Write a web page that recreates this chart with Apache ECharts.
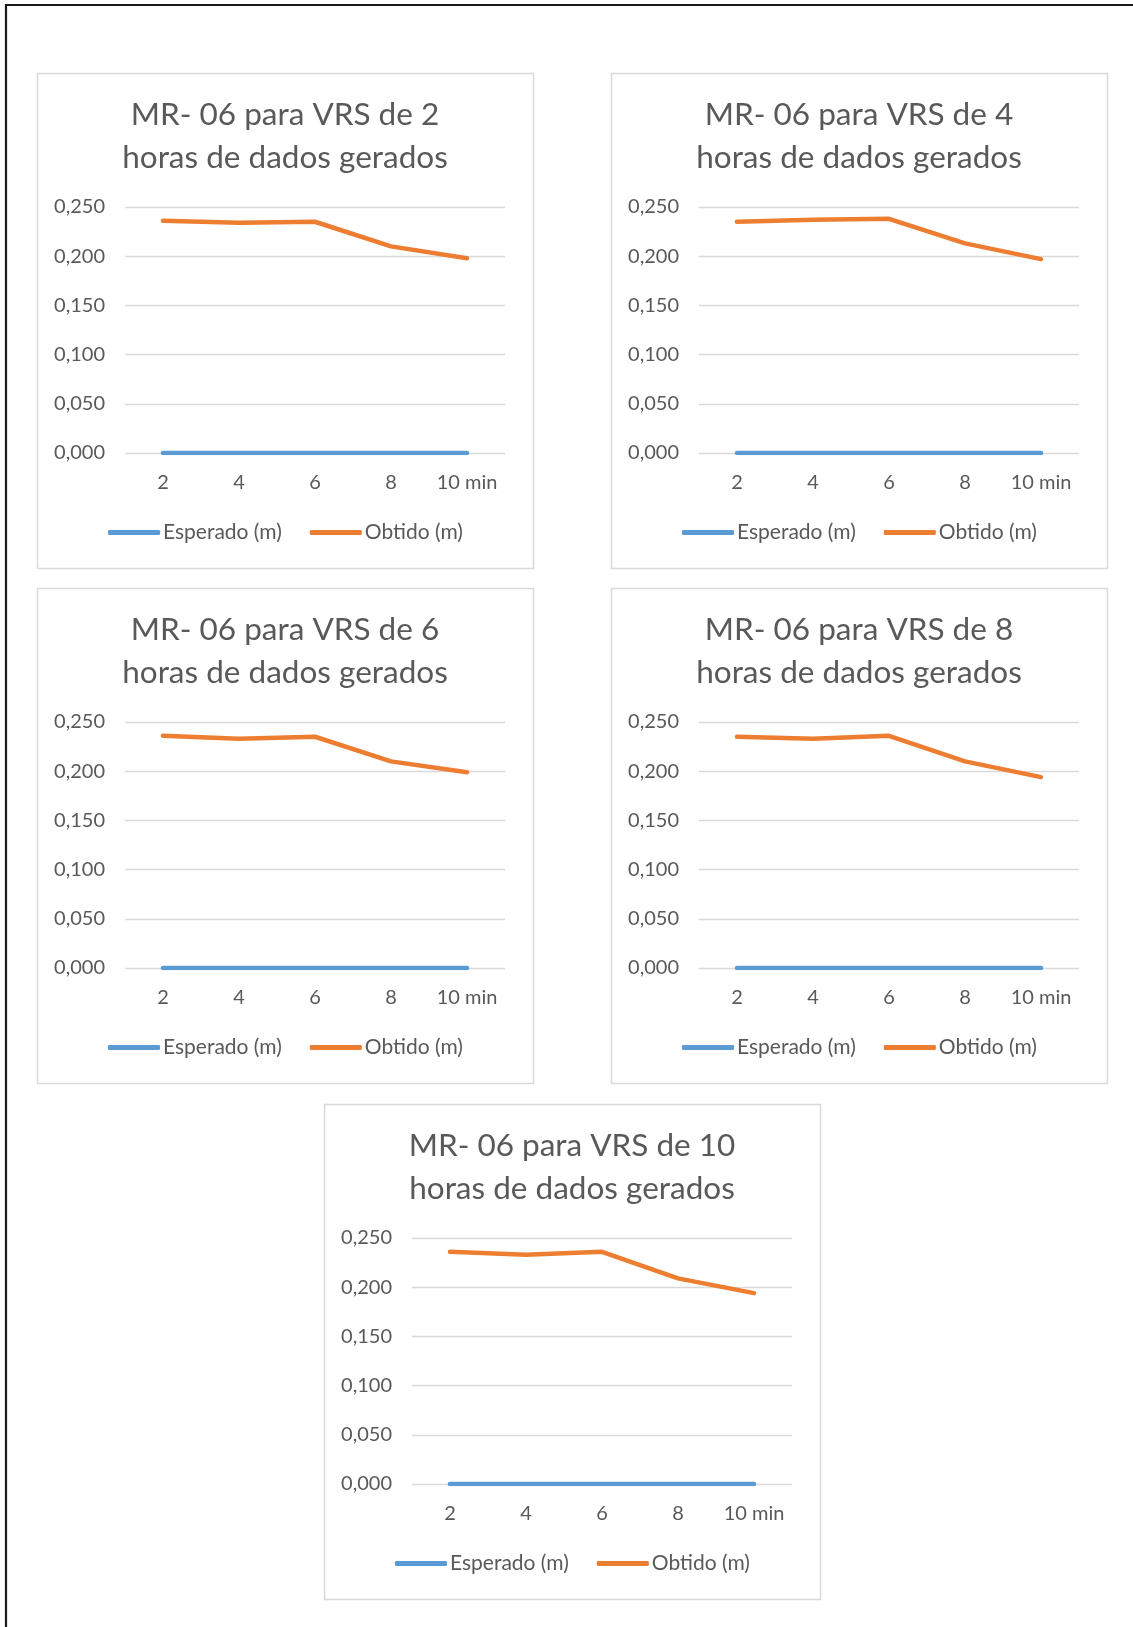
<!DOCTYPE html>
<html>
<head>
<meta charset="utf-8">
<script src="https://cdn.jsdelivr.net/npm/echarts@6/dist/echarts.min.js"></script>
<style>
  html, body { margin: 0; padding: 0; background: #ffffff; }
  #chart { width: 1133px; height: 1627px; }
</style>
</head>
<body>
<div id="chart"></div>
<script>
// Intervalos de medição (minutos)
const categories = ['2', '4', '6', '8', '10 min'];

// Horas de dados usadas para gerar cada VRS
const vrsHours = [2, 4, 6, 8, 10];

// Discrepância esperada (m) — nula em todos os intervalos
const esperado = [0, 0, 0, 0, 0];

// Discrepância obtida (m) para cada VRS
const obtido2h  = [0.236, 0.234, 0.235, 0.210, 0.198];
const obtido4h  = [0.235, 0.237, 0.238, 0.213, 0.197];
const obtido6h  = [0.236, 0.233, 0.235, 0.210, 0.199];
const obtido8h  = [0.235, 0.233, 0.236, 0.210, 0.194];
const obtido10h = [0.236, 0.233, 0.236, 0.209, 0.194];
const obtidos = [obtido2h, obtido4h, obtido6h, obtido8h, obtido10h];

// Marcas do eixo vertical
const yTicks = [0, 0.05, 0.10, 0.15, 0.20, 0.25];

const seriesNames = ['Esperado (m)', 'Obtido (m)'];

// Posição (canto superior esquerdo) de cada painel
const panels = [
  { x: 37,  y: 73 },
  { x: 611, y: 73 },
  { x: 37,  y: 588 },
  { x: 611, y: 588 },
  { x: 324, y: 1104 }
];
const PW = 496, PH = 495;

const FONT = 'Lato, "Open Sans", sans-serif';
const TEXT = '#595959';
const GRID_LINE = '#d9d9d9';
const BLUE = '#5b9bd5';
const ORANGE = '#ed7d31';

const TITLE_SIZE = 31.5;
const LABEL_SIZE = 20;
const LEGEND_SIZE = 21;
const ICON_W = 52, ICON_GAP = 3, ITEM_GAP = 28;

const fmt = v => v.toFixed(3).replace('.', ',');

// Largura de texto para centralizar a legenda dentro do painel
const measureCtx = document.createElement('canvas').getContext('2d');
function textWidth(str, size) {
  measureCtx.font = size + 'px ' + FONT;
  return measureCtx.measureText(str).width;
}
const legendWidth = seriesNames.reduce((acc, n) => acc + ICON_W + ICON_GAP + textWidth(n, LEGEND_SIZE), 0) + ITEM_GAP;

const option = {
  backgroundColor: '#ffffff',
  animation: false,
  legend: [], grid: [], xAxis: [], yAxis: [], series: [],
  graphic: []
};

// Moldura externa (linhas superior e esquerda)
option.graphic.push({
  type: 'line', silent: true,
  shape: { x1: 5, y1: 5, x2: 1133, y2: 5 },
  style: { stroke: '#1a1a1a', lineWidth: 2.2 }
});
option.graphic.push({
  type: 'line', silent: true,
  shape: { x1: 6, y1: 4, x2: 6, y2: 1627 },
  style: { stroke: '#1a1a1a', lineWidth: 2.2 }
});

panels.forEach((p, i) => {
  // Caixa do painel
  option.graphic.push({
    type: 'rect', silent: true, z: -1,
    shape: { x: p.x + 0.5, y: p.y + 0.5, width: PW, height: PH },
    style: { fill: '#ffffff', stroke: '#d9d9d9', lineWidth: 1.5 }
  });

  // Título em duas linhas
  const titleLines = ['MR- 06 para VRS de ' + vrsHours[i], 'horas de dados gerados'];
  titleLines.forEach((line, k) => {
    option.graphic.push({
      type: 'text', silent: true,
      style: {
        text: line,
        x: p.x + PW / 2,
        y: p.y + 42 + k * 42.5,
        align: 'center', verticalAlign: 'middle',
        font: TITLE_SIZE + 'px ' + FONT,
        fill: TEXT
      }
    });
  });

  option.grid.push({
    left: p.x + 88, top: p.y + 134, width: 380, height: 246,
    containLabel: false
  });

  option.xAxis.push({
    type: 'category', gridIndex: i, data: categories, boundaryGap: true,
    axisLine: { show: false }, axisTick: { show: false },
    axisLabel: { color: TEXT, fontFamily: FONT, fontSize: LABEL_SIZE, margin: 20, interval: 0 }
  });

  option.yAxis.push({
    type: 'value', gridIndex: i,
    min: yTicks[0], max: yTicks[yTicks.length - 1], interval: 0.05,
    axisLine: { show: false }, axisTick: { show: false },
    splitLine: { show: true, lineStyle: { color: GRID_LINE, width: 1.3 } },
    axisLabel: {
      color: TEXT, fontFamily: FONT, fontSize: LABEL_SIZE, margin: 20,
      formatter: fmt
    }
  });

  option.legend.push({
    data: seriesNames.map(n => ({ name: n, icon: 'roundRect' })),
    left: Math.round(p.x + PW / 2 - legendWidth / 2),
    top: p.y + 449,
    orient: 'horizontal',
    padding: 0,
    itemWidth: ICON_W, itemHeight: 5, itemGap: ITEM_GAP,
    itemStyle: { borderWidth: 0 },
    textStyle: { color: TEXT, fontFamily: FONT, fontSize: LEGEND_SIZE, padding: [0, 0, 0, ICON_GAP - 5] },
    selectedMode: false
  });

  option.series.push({
    name: seriesNames[0], type: 'line', xAxisIndex: i, yAxisIndex: i,
    data: esperado, symbol: 'none', color: BLUE,
    lineStyle: { color: BLUE, width: 4.5, cap: 'round', join: 'round' },
    z: 3
  });
  option.series.push({
    name: seriesNames[1], type: 'line', xAxisIndex: i, yAxisIndex: i,
    data: obtidos[i], symbol: 'none', color: ORANGE,
    lineStyle: { color: ORANGE, width: 4.5, cap: 'round', join: 'round' },
    z: 3
  });
});

const chart = echarts.init(document.getElementById('chart'), null, { renderer: 'canvas' });
chart.setOption(option);
</script>
</body>
</html>
